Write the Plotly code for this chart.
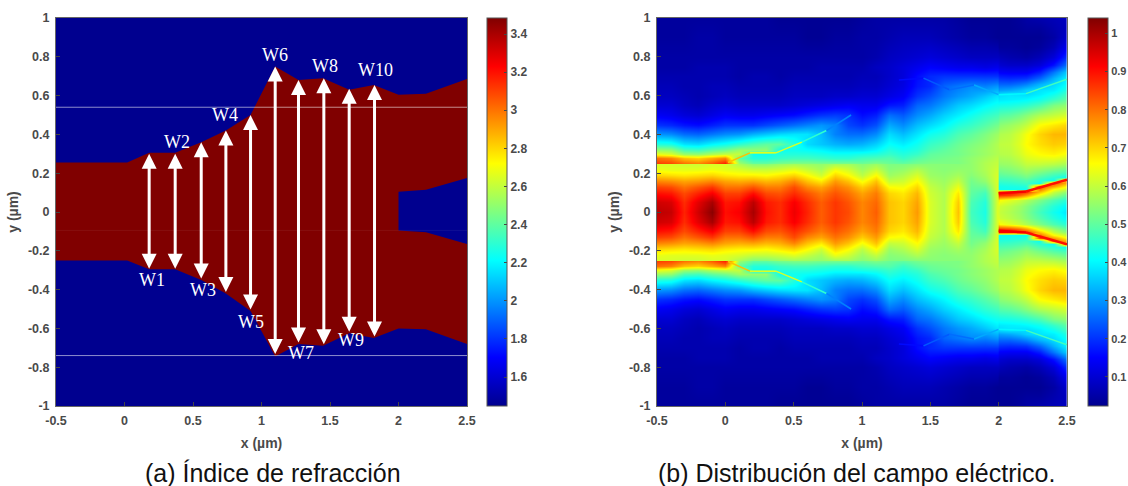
import numpy as np
import plotly.graph_objects as go

PAGE_W, PAGE_H, OFF = 1128, 486, -1
W, H = PAGE_W, PAGE_H


def px(v):
    return (v - OFF) / W


def py(v):
    return 1 - (v - OFF) / H


# ---------- panel (a) data ----------
n_clad, n_core = 1.448, 3.484
core_top_x = [-0.5, 0.02, 0.18, 0.37, 0.56, 0.74, 0.92, 1.1, 1.27, 1.45, 1.64, 1.82, 2.0, 2.2, 2.5]
core_top_y = [0.255, 0.255, 0.305, 0.305, 0.36, 0.42, 0.5, 0.75, 0.68, 0.69, 0.63, 0.655, 0.605, 0.61, 0.685]
hole_x = [2.5, 2.2, 2.0, 2.0, 2.2, 2.5]
hole_y = [0.175, 0.115, 0.105, -0.095, -0.105, -0.165]
core_bot_x = [2.5, 2.2, 2.0, 1.82, 1.64, 1.45, 1.27, 1.1, 0.92, 0.74, 0.56, 0.37, 0.18, 0.02, -0.5]
core_bot_y = [-0.68, -0.605, -0.6, -0.65, -0.625, -0.69, -0.68, -0.745, -0.51, -0.42, -0.35, -0.295, -0.295, -0.25, -0.25]
arrow_x = [0.18, 0.37, 0.56, 0.74, 0.92, 1.1, 1.27, 1.455, 1.64, 1.825]
arrow_top = [0.3, 0.3, 0.36, 0.42, 0.5, 0.75, 0.68, 0.69, 0.635, 0.655]
arrow_bot = [-0.3, -0.3, -0.35, -0.42, -0.51, -0.74, -0.68, -0.69, -0.625, -0.65]
w_names = ["W1", "W2", "W3", "W4", "W5", "W6", "W7", "W8", "W9", "W10"]
w_x = [0.2, 0.38, 0.57, 0.73, 0.92, 1.1, 1.29, 1.46, 1.65, 1.83]
w_y = [-0.35, 0.36, -0.4, 0.5, -0.565, 0.81, -0.725, 0.755, -0.66, 0.73]

# ---------- panel (b) data: |E|, upper half (mirrored for the lower) ----------
left_x = [-0.5, -0.4, -0.3, -0.2, -0.1, 0, 0.1, 0.2, 0.3, 0.4, 0.5, 0.6, 0.7, 0.8, 0.9, 1.0,
          1.1, 1.2, 1.3, 1.4, 1.5, 1.6, 1.7, 1.8, 1.9, 1.99]
left_rows = [0, .05, .1, .13, .16, .19, .22, .245, .255, .28, .3, .32, .35, .4, .45, .5, .55, .6, .65, .7, .75, .8, .9, 1.0]
left_cols = [
 [.98,.96,.9,.85,.78,.7,.64,.62,.85,.8,.64,.56,.44,.3,.2,.14,.1,.08,.07,.06,.05,.05,.04,.04],
 [.97,.95,.89,.84,.77,.69,.63,.62,.84,.78,.62,.55,.43,.29,.19,.13,.1,.08,.07,.06,.05,.05,.04,.04],
 [.88,.87,.84,.8,.75,.68,.63,.61,.8,.72,.56,.48,.38,.26,.17,.11,.08,.07,.06,.06,.05,.05,.04,.04],
 [.96,.94,.88,.83,.76,.69,.63,.61,.78,.7,.55,.47,.37,.25,.16,.1,.07,.06,.06,.06,.06,.05,.05,.04],
 [1.03,1.0,.92,.86,.78,.7,.64,.62,.82,.74,.58,.5,.4,.27,.18,.12,.09,.07,.07,.06,.06,.05,.05,.04],
 [.9,.89,.85,.8,.75,.68,.63,.62,.88,.78,.6,.52,.42,.29,.2,.14,.1,.08,.07,.06,.06,.05,.04,.04],
 [.92,.9,.85,.8,.74,.67,.62,.58,.56,.5,.6,.56,.45,.3,.2,.13,.09,.07,.06,.05,.05,.05,.04,.04],
 [1.0,.98,.9,.83,.75,.67,.6,.54,.5,.44,.42,.55,.48,.33,.2,.13,.09,.07,.06,.06,.05,.05,.04,.04],
 [.9,.89,.84,.79,.73,.66,.6,.54,.5,.44,.42,.55,.5,.35,.22,.14,.09,.07,.06,.06,.05,.05,.04,.04],
 [.87,.87,.83,.79,.74,.68,.61,.56,.52,.46,.44,.42,.5,.37,.24,.15,.09,.07,.06,.05,.05,.05,.04,.03],
 [.93,.92,.87,.84,.78,.7,.63,.57,.53,.47,.44,.42,.44,.38,.26,.16,.1,.08,.07,.06,.05,.05,.04,.03],
 [.88,.87,.83,.78,.72,.66,.6,.56,.53,.47,.44,.41,.37,.38,.28,.18,.11,.08,.07,.06,.05,.05,.03,.03],
 [.82,.82,.79,.75,.68,.61,.57,.55,.52,.46,.43,.4,.35,.34,.3,.2,.12,.08,.07,.06,.06,.05,.03,.03],
 [.86,.86,.83,.8,.76,.7,.64,.57,.52,.45,.42,.38,.33,.28,.28,.21,.13,.09,.07,.06,.06,.05,.04,.03],
 [.84,.83,.8,.77,.72,.66,.61,.57,.52,.45,.42,.38,.32,.26,.22,.2,.14,.09,.07,.06,.06,.05,.04,.03],
 [.78,.78,.75,.71,.65,.59,.56,.54,.51,.47,.43,.38,.33,.26,.2,.16,.13,.1,.08,.07,.06,.05,.05,.04],
 [.82,.81,.79,.76,.72,.66,.6,.56,.53,.48,.44,.4,.36,.29,.23,.18,.13,.1,.08,.07,.08,.06,.05,.05],
 [.72,.72,.7,.66,.6,.56,.54,.53,.51,.49,.46,.44,.41,.37,.32,.26,.17,.12,.1,.09,.09,.08,.06,.05],
 [.7,.7,.68,.65,.61,.58,.55,.53,.5,.46,.44,.42,.39,.34,.29,.24,.18,.14,.12,.11,.11,.09,.07,.05],
 [.76,.75,.73,.7,.66,.62,.58,.54,.52,.49,.46,.44,.42,.38,.34,.29,.25,.2,.17,.16,.13,.1,.07,.05],
 [.62,.62,.61,.6,.58,.56,.55,.54,.53,.51,.5,.48,.46,.42,.37,.32,.27,.23,.19,.19,.15,.11,.07,.05],
 [.58,.58,.58,.57,.56,.55,.54,.54,.53,.52,.51,.5,.48,.44,.4,.36,.31,.27,.25,.2,.14,.1,.06,.05],
 [.72,.71,.68,.64,.6,.57,.55,.54,.53,.53,.52,.52,.51,.48,.44,.39,.35,.3,.27,.2,.13,.09,.05,.04],
 [.47,.48,.5,.51,.52,.54,.55,.55,.55,.55,.54,.54,.53,.5,.46,.42,.37,.32,.29,.2,.13,.08,.04,.03],
 [.43,.44,.47,.51,.55,.57,.58,.58,.58,.57,.56,.56,.55,.53,.49,.45,.4,.35,.28,.2,.12,.08,.04,.03],
 [.62,.62,.62,.62,.62,.62,.61,.6,.6,.59,.58,.58,.58,.56,.52,.47,.42,.38,.3,.2,.13,.08,.03,.03],
]
right_x_edges = [2.0, 2.01, 2.15, 2.25, 2.35, 2.45, 2.55]
right_rows = [0, .03, .06, .09, .105, .12, .135, .15, .165, .18, .2, .25, .3, .35, .4, .45, .5, .55,
              .585, .61, .63, .66, .69, .72, .76, .8, .85, .9, .95, 1.0]
right_cols = [
 [.62,.63,.68,.88,.93,.42,.42,.44,.46,.48,.5,.55,.58,.59,.57,.53,.48,.42,.38,.36,.3,.25,.2,.15,.11,.08,.04,.03,.03,.03],
 [.58,.59,.63,.85,.9,.42,.43,.45,.47,.49,.52,.56,.59,.6,.59,.56,.5,.43,.39,.38,.32,.25,.19,.14,.09,.06,.04,.03,.03,.03],
 [.53,.54,.58,.76,.85,.42,.44,.47,.49,.52,.55,.6,.64,.66,.65,.6,.54,.45,.4,.37,.36,.28,.2,.14,.09,.05,.03,.03,.04,.05],
 [.47,.49,.53,.64,.72,.8,.84,.42,.45,.48,.52,.6,.66,.69,.7,.66,.58,.48,.42,.39,.38,.33,.25,.18,.11,.07,.04,.03,.04,.06],
 [.42,.44,.48,.56,.6,.66,.76,.82,.42,.45,.49,.59,.67,.71,.73,.68,.6,.53,.46,.42,.39,.37,.33,.27,.17,.11,.07,.05,.06,.07],
 [.38,.4,.44,.5,.54,.6,.66,.74,.82,.42,.47,.57,.65,.7,.73,.7,.62,.55,.5,.47,.44,.41,.4,.36,.27,.2,.14,.1,.08,.08],
]
# crisp bright edge along the upper outline of the guide (mirrored below): segment ends and value
edge_x = [0.02, 0.18, 0.37, 0.56, 0.74, 0.92, 1.27, 1.45, 1.64, 1.82, 2.0, 2.2, 2.5]
edge_y = [0.255, 0.305, 0.305, 0.36, 0.42, 0.5, 0.68, 0.69, 0.63, 0.655, 0.605, 0.61, 0.685]
edge_v = [0.72, 0.64, 0.62, 0.45, 0.28, None, 0.16, 0.24, 0.26, 0.32, 0.4, 0.47]
hole_edge_x = [2.0, 2.2, 2.5]
hole_edge_y = [0.097, 0.106, 0.167]
hole_edge_v = [0.92, 0.9]

x_tick_vals = [-0.5, 0, 0.5, 1, 1.5, 2, 2.5]
x_tick_text = ["-0.5", "0", "0.5", "1", "1.5", "2", "2.5"]
y_tick_vals = [-1, -0.8, -0.6, -0.4, -0.2, 0, 0.2, 0.4, 0.6, 0.8, 1]
y_tick_text = ["-1", "-0.8", "-0.6", "-0.4", "-0.2", "0", "0.2", "0.4", "0.6", "0.8", "1"]
cb_a_vals = [1.6, 1.8, 2, 2.2, 2.4, 2.6, 2.8, 3, 3.2, 3.4]
cb_a_text = ["1.6", "1.8", "2", "2.2", "2.4", "2.6", "2.8", "3", "3.2", "3.4"]
cb_b_vals = [.1, .2, .3, .4, .5, .6, .7, .8, .9, 1]
cb_b_text = ["0.1", "0.2", "0.3", "0.4", "0.5", "0.6", "0.7", "0.8", "0.9", "1"]
e_min, e_max = 0.024, 1.04

jet_pos = [0, 0.125, 0.375, 0.625, 0.875, 1]
jet_rgb = [(0, 0, 143), (0, 0, 255), (0, 255, 255), (255, 255, 0), (255, 0, 0), (128, 0, 0)]
jet = [[p, "rgb(%d,%d,%d)" % c] for p, c in zip(jet_pos, jet_rgb)]
FONT = "Liberation Sans"
GREY = "#4a4a4a"
TICK = dict(family=FONT, size=12.5, color=GREY, weight="bold")


def jet_color(v):
    t = (v - e_min) / (e_max - e_min)
    return "rgb(%d,%d,%d)" % tuple(np.interp(t, jet_pos, [c[i] for c in jet_rgb]) for i in range(3))


def mirrored(rows, cols):
    z = np.array(cols).T
    yy = [-r for r in rows[::-1]] + list(rows[1:])
    return yy, np.vstack([z[::-1], z[1:]]).tolist()


def cbar(x_px, thick, vals, text, size):
    return dict(x=px(x_px), xanchor="left", xpad=0, ypad=0, thickness=thick, thicknessmode="pixels",
                y=py(405), yanchor="bottom", len=388 / H, lenmode="fraction",
                ticks="inside", ticklen=3, tickcolor="#444", tickvals=vals, ticktext=text,
                ticklabeloverflow="allow",
                tickfont=dict(family=FONT, size=size, color=GREY, weight="bold"),
                outlinecolor="#555", outlinewidth=1)


fig = go.Figure()
fig.add_trace(go.Heatmap(x=[-0.5, 2.5], y=[-1, 1], z=[[n_clad, n_clad], [n_clad, n_clad]],
                         zmin=n_clad, zmax=n_core, colorscale=jet, hoverinfo="skip",
                         colorbar=cbar(486, 20, cb_a_vals, cb_a_text, 12), xaxis="x", yaxis="y"))
fig.add_trace(go.Scatter(x=core_top_x + hole_x + core_bot_x, y=core_top_y + hole_y + core_bot_y,
                         fill="toself", fillcolor="rgb(128,0,0)", mode="none", xaxis="x", yaxis="y",
                         showlegend=False, hoverinfo="skip"))
yl, zl = mirrored(left_rows, left_cols)
fig.add_trace(go.Heatmap(x=left_x, y=yl, z=zl, zmin=e_min, zmax=e_max, colorscale=jet, zsmooth="best",
                         colorbar=cbar(1087, 20, cb_b_vals, cb_b_text, 11), xaxis="x2", yaxis="y2"))
yr, zr = mirrored(right_rows, right_cols)
fig.add_trace(go.Heatmap(x=right_x_edges, y=yr, z=zr, zmin=e_min, zmax=e_max, colorscale=jet, zsmooth="best",
                         showscale=False, xaxis="x2", yaxis="y2"))
for sign in (1, -1):
    for i, v in enumerate(edge_v):
        if v is None:
            continue
        fig.add_trace(go.Scatter(x=edge_x[i:i + 2], y=[sign * q for q in edge_y[i:i + 2]], mode="lines",
                                 line=dict(color=jet_color(v), width=1.5), xaxis="x2", yaxis="y2",
                                 showlegend=False, hoverinfo="skip"))
    for i, v in enumerate(hole_edge_v):
        fig.add_trace(go.Scatter(x=hole_edge_x[i:i + 2], y=[sign * q for q in hole_edge_y[i:i + 2]], mode="lines",
                                 line=dict(color=jet_color(v), width=2.5), xaxis="x2", yaxis="y2",
                                 showlegend=False, hoverinfo="skip"))

ax_common = dict(showgrid=False, zeroline=False, showline=True, mirror=True, linecolor="#666", linewidth=1,
                 ticks="inside", ticklen=4, tickcolor="#444", tickfont=TICK, ticklabelstandoff=3)
ytitle = dict(text="y (µm)", font=dict(family=FONT, size=14, color=GREY, weight="bold"), standoff=6)
xtitle = dict(text="x (µm)", font=dict(family=FONT, size=14, color=GREY, weight="bold"), standoff=11)
dy = [py(405), py(17)]
fig.update_layout(
    width=W, height=H, autosize=False, margin=dict(l=0, r=0, t=0, b=0, autoexpand=False),
    paper_bgcolor="white", plot_bgcolor="white", showlegend=False,
    xaxis=dict(domain=[px(55), px(466)], range=[-0.5, 2.5], anchor="y", tickvals=x_tick_vals, ticktext=x_tick_text, title=xtitle, **ax_common),
    yaxis=dict(domain=dy, range=[-1, 1], anchor="x", tickvals=y_tick_vals, ticktext=y_tick_text, title=ytitle, **ax_common),
    xaxis2=dict(domain=[px(656), px(1066)], range=[-0.5, 2.5], anchor="y2", tickvals=x_tick_vals, ticktext=x_tick_text, title=xtitle, **ax_common),
    yaxis2=dict(domain=dy, range=[-1, 1], anchor="x2", tickvals=y_tick_vals, ticktext=y_tick_text, title=ytitle, **ax_common),
)
anns = []
for x, t, b in zip(arrow_x, arrow_top, arrow_bot):
    anns.append(dict(x=x, y=t, ax=x, ay=b, xref="x", yref="y", axref="x", ayref="y", text="", showarrow=True,
                     arrowhead=2, startarrowhead=2, arrowside="end+start", arrowwidth=3, arrowsize=1,
                     startarrowsize=1, arrowcolor="white"))
for name, x, y in zip(w_names, w_x, w_y):
    anns.append(dict(x=x, y=y, xref="x", yref="y", text=name, showarrow=False,
                     font=dict(family="Liberation Serif", size=18, color="white")))
anns.append(dict(x=px(272), y=py(472), xref="paper", yref="paper", xanchor="center", yanchor="middle",
                 text="(a) Índice de refracción", showarrow=False, font=dict(family=FONT, size=25, color="#111")))
anns.append(dict(x=px(855), y=py(472), xref="paper", yref="paper", xanchor="center", yanchor="middle",
                 text="(b) Distribución del campo eléctrico.", showarrow=False, font=dict(family=FONT, size=25, color="#111")))
fig.update_layout(annotations=anns)
# faint white stitching lines crossing panel (a)
line_levels = [0.54, -0.74]
shapes = [dict(type="line", xref="x", yref="y", x0=-0.5, x1=2.5, y0=v, y1=v, line=dict(color="rgba(255,255,255,0.55)", width=1)) for v in line_levels]
shapes.append(dict(type="line", xref="x", yref="y", x0=-0.5, x1=2.5, y0=-0.095, y1=-0.095, line=dict(color="rgba(255,255,255,0.06)", width=1)))
fig.update_layout(shapes=shapes)
fig.write_html("out.html", config={"displayModeBar": False},
               post_script="document.body.style.margin='0';document.documentElement.style.overflow='hidden';")
